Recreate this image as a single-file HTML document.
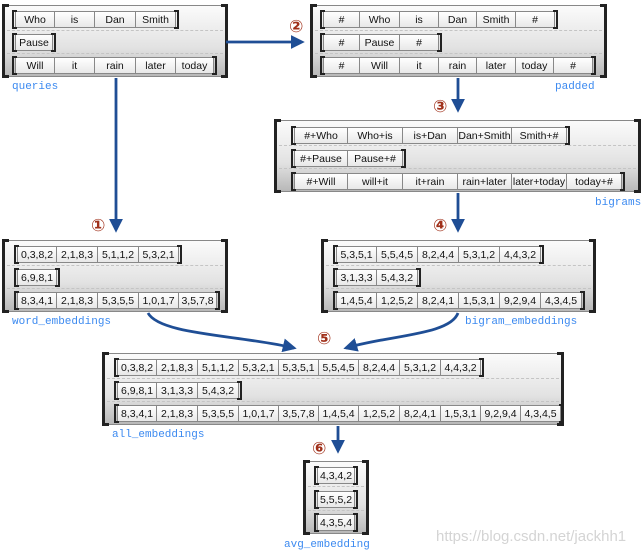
<!DOCTYPE html>
<html><head><meta charset="utf-8"><style>
body{margin:0;width:644px;height:555px;background:#fff;position:relative;overflow:hidden;font-family:"Liberation Sans",Arial,sans-serif;}
.b{position:absolute;height:72px;background:linear-gradient(#fbfbfb,#e2e2e2 60%,#b8b8b8);border-top:1px solid #888;border-bottom:1px solid #888;box-sizing:border-box}
.b::before,.b::after{content:"";position:absolute;top:-2px;bottom:-2px;width:4px;border:3px solid #222;}
.b::before{left:-2px;border-right:none}
.b::after{right:-2px;border-left:none}
.d{position:absolute;left:3px;right:3px;border-top:1px dashed #c4c4c4}
.r{position:absolute;display:flex;height:17px;}
.r::before,.r::after{content:"";position:absolute;top:-1px;bottom:-1px;width:3px;border:2px solid #222;}
.r::before{left:-3px;border-right:none}
.r::after{right:-3px;border-left:none}
.r span{display:block;height:17px;line-height:17px;font-size:10.5px;text-align:center;color:#111;background:linear-gradient(#fff,#e8e8e8);border:1px solid #888;border-left:none;box-sizing:border-box;white-space:nowrap;overflow:hidden}
.r span:first-child{border-left:1px solid #888}
.l{position:absolute;font-family:"Liberation Mono",monospace;font-size:11px;color:#3c8af0}
.n{position:absolute;font-size:17px;color:#a0301a;font-family:"DejaVu Sans",sans-serif;font-weight:bold}
</style></head><body>

<!-- queries -->
<div class="b" style="left:4px;top:5px;width:222px">
<div class="d" style="top:24px"></div><div class="d" style="top:47px"></div>
<div class="r" style="left:11px;top:5px"><span style="width:40px">Who</span><span style="width:40px">is</span><span style="width:41px">Dan</span><span style="width:40px">Smith</span></div>
<div class="r" style="left:11px;top:28px"><span style="width:38px">Pause</span></div>
<div class="r" style="left:11px;top:51px"><span style="width:40px">Will</span><span style="width:40px">it</span><span style="width:41px">rain</span><span style="width:40px">later</span><span style="width:38px">today</span></div>
</div>
<div class="l" style="left:12px;top:81px">queries</div>

<!-- padded -->
<div class="b" style="left:312px;top:5px;width:293px">
<div class="d" style="top:24px"></div><div class="d" style="top:47px"></div>
<div class="r" style="left:11px;top:5px"><span style="width:37px">#</span><span style="width:40px">Who</span><span style="width:39px">is</span><span style="width:38px">Dan</span><span style="width:39px">Smith</span><span style="width:39px">#</span></div>
<div class="r" style="left:11px;top:28px"><span style="width:37px">#</span><span style="width:40px">Pause</span><span style="width:39px">#</span></div>
<div class="r" style="left:11px;top:51px"><span style="width:37px">#</span><span style="width:40px">Will</span><span style="width:39px">it</span><span style="width:38px">rain</span><span style="width:39px">later</span><span style="width:38px">today</span><span style="width:39px">#</span></div>
</div>
<div class="l" style="left:555px;top:81px">padded</div>

<!-- bigrams -->
<div class="b" style="left:276px;top:120px;width:363px">
<div class="d" style="top:24px"></div><div class="d" style="top:47px"></div>
<div class="r" style="left:18px;top:6px"><span style="width:54px">#+Who</span><span style="width:55px">Who+is</span><span style="width:55px">is+Dan</span><span style="width:54px">Dan+Smith</span><span style="width:55px">Smith+#</span></div>
<div class="r" style="left:18px;top:29px"><span style="width:54px">#+Pause</span><span style="width:55px">Pause+#</span></div>
<div class="r" style="left:18px;top:52px"><span style="width:54px">#+Will</span><span style="width:55px">will+it</span><span style="width:55px">it+rain</span><span style="width:54px">rain+later</span><span style="width:55px">later+today</span><span style="width:55px">today+#</span></div>
</div>
<div class="l" style="left:595px;top:197px">bigrams</div>

<!-- word_embeddings -->
<div class="b" style="left:4px;top:240px;width:222px">
<div class="d" style="top:24px"></div><div class="d" style="top:47px"></div>
<div class="r" style="left:13px;top:5px"><span style="width:40px">0,3,8,2</span><span style="width:41px">2,1,8,3</span><span style="width:41px">5,1,1,2</span><span style="width:40px">5,3,2,1</span></div>
<div class="r" style="left:13px;top:28px"><span style="width:40px">6,9,8,1</span></div>
<div class="r" style="left:13px;top:51px"><span style="width:40px">8,3,4,1</span><span style="width:41px">2,1,8,3</span><span style="width:41px">5,3,5,5</span><span style="width:40px">1,0,1,7</span><span style="width:38px">3,5,7,8</span></div>
</div>
<div class="l" style="left:12px;top:316px">word_embeddings</div>

<!-- bigram_embeddings -->
<div class="b" style="left:323px;top:240px;width:271px">
<div class="d" style="top:24px"></div><div class="d" style="top:47px"></div>
<div class="r" style="left:13px;top:5px"><span style="width:41px">5,3,5,1</span><span style="width:41px">5,5,4,5</span><span style="width:41px">8,2,4,4</span><span style="width:41px">5,3,1,2</span><span style="width:41px">4,4,3,2</span></div>
<div class="r" style="left:13px;top:28px"><span style="width:41px">3,1,3,3</span><span style="width:41px">5,4,3,2</span></div>
<div class="r" style="left:13px;top:51px"><span style="width:41px">1,4,5,4</span><span style="width:41px">1,2,5,2</span><span style="width:41px">8,2,4,1</span><span style="width:41px">1,5,3,1</span><span style="width:41px">9,2,9,4</span><span style="width:41px">4,3,4,5</span></div>
</div>
<div class="l" style="left:465px;top:316px">bigram_embeddings</div>

<!-- all_embeddings -->
<div class="b" style="left:104px;top:353px;width:458px">
<div class="d" style="top:24px"></div><div class="d" style="top:47px"></div>
<div class="r" style="left:13px;top:5px"><span style="width:40px">0,3,8,2</span><span style="width:41px">2,1,8,3</span><span style="width:41px">5,1,1,2</span><span style="width:40px">5,3,2,1</span><span style="width:40px">5,3,5,1</span><span style="width:40px">5,5,4,5</span><span style="width:41px">8,2,4,4</span><span style="width:41px">5,3,1,2</span><span style="width:40px">4,4,3,2</span></div>
<div class="r" style="left:13px;top:28px"><span style="width:40px">6,9,8,1</span><span style="width:41px">3,1,3,3</span><span style="width:41px">5,4,3,2</span></div>
<div class="r" style="left:13px;top:51px"><span style="width:40px">8,3,4,1</span><span style="width:41px">2,1,8,3</span><span style="width:41px">5,3,5,5</span><span style="width:40px">1,0,1,7</span><span style="width:40px">3,5,7,8</span><span style="width:40px">1,4,5,4</span><span style="width:41px">1,2,5,2</span><span style="width:41px">8,2,4,1</span><span style="width:40px">1,5,3,1</span><span style="width:40px">9,2,9,4</span><span style="width:40px">4,3,4,5</span></div>
</div>
<div class="l" style="left:112px;top:429px">all_embeddings</div>

<!-- avg -->
<div class="b" style="left:305px;top:461px;width:62px;height:73px">
<div class="d" style="top:24px"></div><div class="d" style="top:48px"></div>
<div class="r" style="left:12px;top:5px"><span style="width:38px">4,3,4,2</span></div>
<div class="r" style="left:12px;top:29px"><span style="width:38px">5,5,5,2</span></div>
<div class="r" style="left:12px;top:52px"><span style="width:38px">4,3,5,4</span></div>
</div>
<div class="l" style="left:284px;top:539px">avg_embedding</div>

<div style="position:absolute;left:436px;top:528px;font-size:15px;color:#d4d4d4">https://blog.csdn.net/jackhh1</div>

<svg width="644" height="555" style="position:absolute;left:0;top:0" fill="none">
<defs><marker id="a" markerWidth="5" markerHeight="5" refX="4" refY="2.5" orient="auto" markerUnits="strokeWidth"><path d="M0,0L5,2.5L0,5z" fill="#1f4e95"/></marker></defs>
<g stroke="#1f4e95" stroke-width="2.8">
<path d="M116 78V230" marker-end="url(#a)"/>
<path d="M226 42H302" marker-end="url(#a)"/>
<path d="M458 78V110" marker-end="url(#a)"/>
<path d="M458 193V230" marker-end="url(#a)"/>
<path d="M148 313C160 335 240 335 294 348" marker-end="url(#a)"/>
<path d="M458 313C450 335 390 335 346 348" marker-end="url(#a)"/>
<path d="M338 426V451" marker-end="url(#a)"/>
</g>
</svg>
<div class="n" style="left:91px;top:216px">①</div>
<div class="n" style="left:289px;top:17px">②</div>
<div class="n" style="left:433px;top:97px">③</div>
<div class="n" style="left:433px;top:216px">④</div>
<div class="n" style="left:317px;top:329px">⑤</div>
<div class="n" style="left:312px;top:439px">⑥</div>
</body></html>
